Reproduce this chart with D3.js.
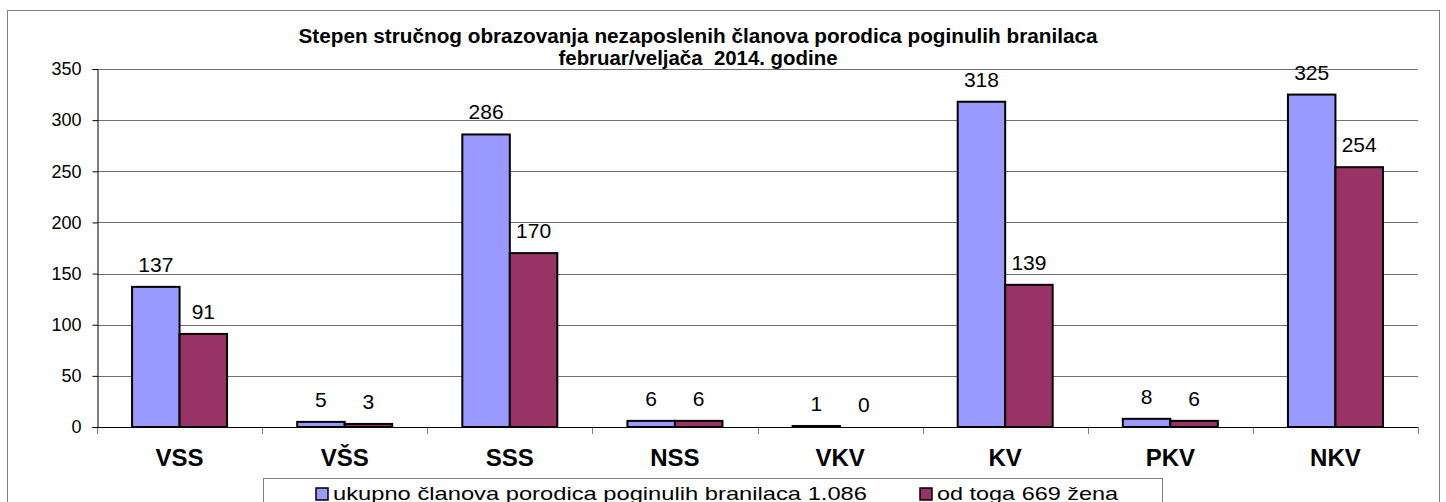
<!DOCTYPE html>
<html>
<head>
<meta charset="utf-8">
<script src="https://cdn.jsdelivr.net/npm/d3@7"></script>
<style>
body { margin: 0; background: #fff; }
text { font-family: Arial, "Liberation Sans", sans-serif; }
</style>
</head>
<body>
<svg width="1446" height="502"></svg>
<script>
// data
var categories = ["VSS", "VŠS", "SSS", "NSS", "VKV", "KV", "PKV", "NKV"];
var ukupno = [137, 5, 286, 6, 1, 318, 8, 325];
var zene = [91, 3, 170, 6, 0, 139, 6, 254];
var seriesNames = ["ukupno članova porodica poginulih branilaca 1.086", "od toga 669 žena"];
var seriesColors = ["#9999FF", "#993366"];
var yTicks = [0, 50, 100, 150, 200, 250, 300, 350];

var svg = d3.select("svg");

// outer frame
svg.append("rect")
    .attr("x", 7.5).attr("y", 10.5)
    .attr("width", 1432).attr("height", 500)
    .attr("fill", "none")
    .attr("stroke", "#808080")
    .attr("stroke-width", 1);

var plotLeft = 97, plotRight = 1418, plotTop = 69, plotBottom = 427;

var x = d3.scaleBand()
    .domain(categories)
    .range([plotLeft, plotRight]);

var x1 = d3.scaleBand()
    .domain([0, 1])
    .range([0, 95])
    .padding(0);

var y = d3.scaleLinear()
    .domain([0, 350])
    .range([plotBottom, plotTop]);

// gridlines
svg.append("g")
    .selectAll("line")
    .data(yTicks.filter(function(d) { return d > 0; }))
    .enter().append("line")
    .attr("x1", plotLeft).attr("x2", plotRight)
    .attr("y1", function(d) { return Math.round(y(d)) + 0.5; })
    .attr("y2", function(d) { return Math.round(y(d)) + 0.5; })
    .attr("stroke", "#707070")
    .attr("stroke-width", 1);

// y axis
var yAxis = svg.append("g")
    .attr("transform", "translate(" + (plotLeft + 0.5) + ",0)")
    .call(d3.axisLeft(y).tickValues(yTicks).tickSize(5).tickPadding(11));
yAxis.select(".domain").attr("stroke", "#000");
yAxis.selectAll(".tick line").attr("stroke", "#000");
yAxis.selectAll("text")
    .attr("font-size", 18)
    .attr("font-family", "Arial, 'Liberation Sans', sans-serif")
    .attr("fill", "#000");

// x tick marks at category boundaries
svg.append("g")
    .selectAll("line")
    .data(d3.range(categories.length + 1))
    .enter().append("line")
    .attr("x1", function(i) { return Math.round(plotLeft + i * x.bandwidth()) + 0.5; })
    .attr("x2", function(i) { return Math.round(plotLeft + i * x.bandwidth()) + 0.5; })
    .attr("y1", plotBottom).attr("y2", plotBottom + 7)
    .attr("stroke", "#808080");

// bars
var groups = svg.append("g")
    .selectAll("g")
    .data(categories)
    .enter().append("g")
    .attr("transform", function(d) {
        return "translate(" + (x(d) + (x.bandwidth() - 95) / 2) + ",0)";
    });

groups.selectAll("rect")
    .data(function(d, i) { return [ukupno[i], zene[i]]; })
    .enter().append("rect")
    .attr("x", function(d, j) { return x1(j); })
    .attr("y", function(d) { return y(d); })
    .attr("width", x1.bandwidth())
    .attr("height", function(d) { return plotBottom - y(d); })
    .attr("fill", function(d, j) { return seriesColors[j]; })
    .attr("stroke", "#000")
    .attr("stroke-width", 2);

groups.selectAll("text")
    .data(function(d, i) { return [ukupno[i], zene[i]]; })
    .enter().append("text")
    .attr("x", function(d, j) { return x1(j) + x1.bandwidth() / 2; })
    .attr("y", function(d) { return y(d) - 15; })
    .attr("text-anchor", "middle")
    .attr("font-size", 21)
    .text(function(d) { return d; });

// x axis line
svg.append("line")
    .attr("x1", plotLeft).attr("x2", plotRight)
    .attr("y1", plotBottom + 0.5).attr("y2", plotBottom + 0.5)
    .attr("stroke", "#000");

// category labels
svg.append("g")
    .selectAll("text")
    .data(categories)
    .enter().append("text")
    .attr("x", function(d) { return x(d) + x.bandwidth() / 2; })
    .attr("y", 466)
    .attr("text-anchor", "middle")
    .attr("font-size", 24)
    .attr("font-weight", "bold")
    .text(function(d) { return d; });

// title
svg.append("text")
    .attr("x", 698).attr("y", 43)
    .attr("text-anchor", "middle")
    .attr("font-size", 20)
    .attr("font-weight", "bold")
    .attr("textLength", 799)
    .attr("lengthAdjust", "spacingAndGlyphs")
    .text("Stepen stručnog obrazovanja nezaposlenih članova porodica poginulih branilaca");
svg.append("text")
    .attr("x", 698).attr("y", 65)
    .attr("text-anchor", "middle")
    .attr("font-size", 20)
    .attr("font-weight", "bold")
    .attr("xml:space", "preserve")
    .attr("textLength", 279)
    .attr("lengthAdjust", "spacingAndGlyphs")
    .text("februar/veljača  2014. godine");

// legend
var legend = svg.append("g");
legend.append("rect")
    .attr("x", 263.5).attr("y", 478.5)
    .attr("width", 899).attr("height", 40)
    .attr("fill", "#fff")
    .attr("stroke", "#808080");

var legendX = [316, 920];
var legendW = [534, 181];
legendX.forEach(function(lx, j) {
    legend.append("rect")
        .attr("x", lx).attr("y", 488)
        .attr("width", 12).attr("height", 12)
        .attr("fill", seriesColors[j])
        .attr("stroke", "#000")
        .attr("stroke-width", 1.5);
    legend.append("text")
        .attr("x", lx + 17).attr("y", 500)
        .attr("font-size", 19)
        .attr("textLength", legendW[j])
        .attr("lengthAdjust", "spacingAndGlyphs")
        .text(seriesNames[j]);
});
</script>
</body>
</html>
